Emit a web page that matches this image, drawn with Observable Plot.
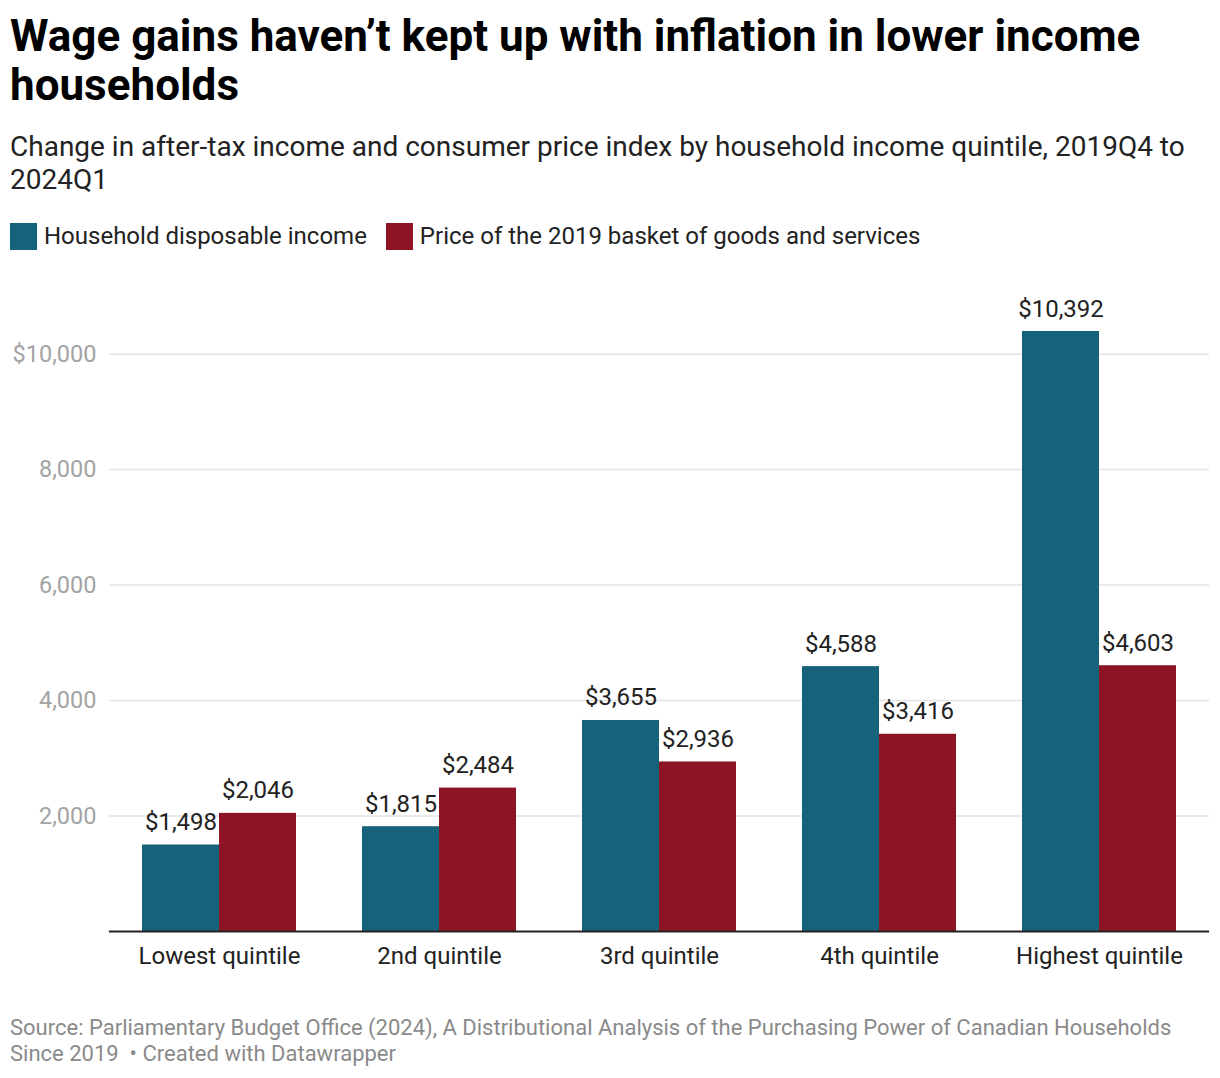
<!DOCTYPE html>
<html>
<head>
<meta charset="utf-8">
<script src="https://cdn.jsdelivr.net/npm/d3@7"></script>
<script src="https://cdn.jsdelivr.net/npm/@observablehq/plot@0.6"></script>
<style>
  html, body { margin: 0; padding: 0; background: #fff; }
  body { width: 1220px; height: 1078px; position: relative; font-family: Roboto, "Noto Sans", sans-serif; color: #222; }
  #title { position: absolute; left: 10px; top: 12px; width: 1200px; font-size: 44px; font-weight: 700; line-height: 49px; color: #000; }
  #subtitle { position: absolute; left: 10px; top: 130px; width: 1200px; font-size: 28px; line-height: 33px; color: #222; }
  #legend { position: absolute; left: 10px; top: 222px; display: flex; align-items: center; font-size: 24px; color: #222; }
  .item { display: flex; align-items: center; margin-right: 19px; }
  .sw { width: 27px; height: 27px; margin-right: 7px; }
  #chart { position: absolute; left: 0; top: 270px; }
  #footer { position: absolute; left: 10px; top: 1015px; width: 1200px; font-size: 22px; line-height: 26px; color: #8a8a8a; }
</style>
</head>
<body>
<div id="title">Wage gains haven’t kept up with inflation in lower income households</div>
<div id="subtitle">Change in after-tax income and consumer price index by household income quintile, 2019Q4 to 2024Q1</div>
<div id="legend"></div>
<div id="chart"></div>
<div id="footer">Source: Parliamentary Budget Office (2024), A Distributional Analysis of the Purchasing Power of Canadian Households Since 2019 &nbsp;• Created with Datawrapper</div>
<script>
const quintiles = ["Lowest quintile", "2nd quintile", "3rd quintile", "4th quintile", "Highest quintile"];
const series = ["Household disposable income", "Price of the 2019 basket of goods and services"];
const colors = ["#17627b", "#8c1424"];
const incomeValues = [1498, 1815, 3655, 4588, 10392];
const priceValues = [2046, 2484, 2936, 3416, 4603];
const yTicks = [2000, 4000, 6000, 8000, 10000];

const data = [];
quintiles.forEach((q, i) => {
  data.push({quintile: q, series: series[0], value: incomeValues[i]});
  data.push({quintile: q, series: series[1], value: priceValues[i]});
});

const legend = document.getElementById("legend");
series.forEach((s, i) => {
  const it = document.createElement("div");
  it.className = "item";
  it.innerHTML = `<div class="sw" style="background:${colors[i]}"></div><span>${s}</span>`;
  legend.appendChild(it);
});

const fmt = d3.format(",");
const tickFmt = d => d === 10000 ? "$" + fmt(d) : fmt(d);

const W = 1220, ML = 108, MR = 10;
const padInner = 0.3, padOuter = 0.15;
// half of the gap between facets (equals the outer padding), so gridlines run continuously
const step = (W - ML - MR) / (quintiles.length - padInner + 2 * padOuter);
const ext = step * padOuter;

const chart = Plot.plot({
  width: W,
  height: 711,
  marginTop: 61,
  marginBottom: 50,
  marginLeft: ML,
  marginRight: MR,
  style: {fontFamily: "Roboto, sans-serif", background: "transparent"},
  fx: {domain: quintiles, paddingInner: padInner, paddingOuter: padOuter, label: null},
  x: {domain: series, padding: 0, axis: null},
  y: {domain: [0, 10392], axis: null},
  color: {domain: series, range: colors},
  marks: [
    Plot.ruleY(yTicks, {y: d => d, stroke: "#e3e3e3", strokeWidth: 1.5, insetLeft: -ext, insetRight: -ext}),
    Plot.axisY(yTicks, {anchor: "left", tickSize: 0, tickPadding: 13 + ext, tickFormat: tickFmt, fontSize: 23.5, fill: "#a3a3a3", label: null}),
    Plot.barY(data, {fx: "quintile", x: "series", y: "value", fill: "series"}),
    Plot.text(data, {fx: "quintile", x: "series", y: "value", text: d => "$" + fmt(d.value), lineAnchor: "bottom", dy: -15, fontSize: 24, fill: "#222"}),
    Plot.ruleY([0], {stroke: "#222", strokeWidth: 2, insetLeft: -ext, insetRight: -ext}),
    Plot.axisFx({anchor: "bottom", tickSize: 0, tickPadding: 15, fontSize: 24, fill: "#222", label: null})
  ]
});
document.getElementById("chart").appendChild(chart);
</script>
</body>
</html>
